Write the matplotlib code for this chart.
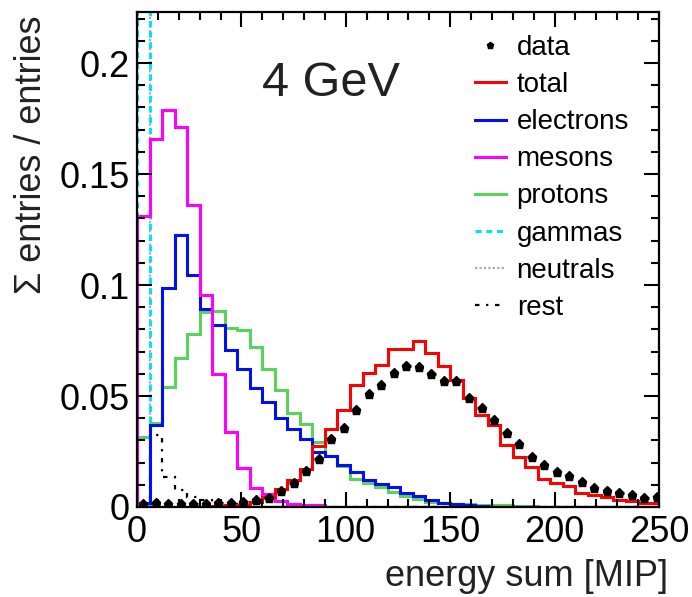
import matplotlib
matplotlib.use("Agg")
import matplotlib.pyplot as plt
from matplotlib.lines import Line2D
import numpy as np

plt.rcParams["font.family"] = ["Liberation Sans", "DejaVu Sans"]

# 6 MIP wide bins, 0 .. 252 (the last one is cut at 250)
bin_edges = np.arange(0, 253, 6)
bin_centres = 0.5 * (bin_edges[:-1] + bin_edges[1:])

data = [0.0015, 0.002, 0.0015, 0.0012, 0.0012, 0.0015, 0.0018, 0.002, 0.0024,
        0.0032, 0.004, 0.0073, 0.011, 0.0164, 0.0215, 0.0305, 0.0354, 0.0438,
        0.0508, 0.055, 0.0604, 0.0637, 0.0631, 0.0601, 0.0566, 0.0568, 0.049,
        0.0445, 0.0393, 0.0335, 0.0284, 0.0227, 0.0189, 0.0159, 0.014, 0.0111,
        0.0087, 0.0073, 0.0062, 0.0054, 0.0042, 0.0044]
total = [0, 0, 0, 0, 0, 0, 0.0005, 0.0008, 0.001,
         0.0024, 0.0047, 0.008, 0.0122, 0.017, 0.0276, 0.0351, 0.0437, 0.055,
         0.0605, 0.064, 0.071, 0.071, 0.075, 0.0693, 0.0635, 0.0572, 0.049,
         0.0414, 0.0368, 0.028, 0.0227, 0.0182, 0.0125, 0.011, 0.0095, 0.0065,
         0.0054, 0.0047, 0.0032, 0.0029, 0.002, 0.002]
electrons = [0.002, 0.037, 0.0985, 0.1225, 0.1045, 0.089, 0.082, 0.0707, 0.062,
             0.0535, 0.0474, 0.040, 0.035, 0.0305, 0.0249, 0.0232, 0.0187, 0.0159,
             0.0122, 0.0104, 0.0092, 0.0065, 0.005, 0.0032, 0.0017, 0.0012, 0.0008,
             0.0005, 0, 0, 0, 0, 0, 0, 0, 0, 0, 0, 0, 0, 0, 0]
mesons = [0.131, 0.166, 0.179, 0.171, 0.136, 0.0955, 0.060, 0.034, 0.0175,
          0.0086, 0.0058, 0.0025, 0.0013, 0.001, 0.001, 0, 0, 0, 0, 0, 0, 0,
          0, 0, 0, 0, 0, 0, 0, 0, 0, 0, 0, 0, 0, 0, 0, 0, 0, 0, 0, 0]
protons = [0.0317, 0.038, 0.054, 0.067, 0.078, 0.088, 0.0883, 0.0805, 0.0797,
           0.0722, 0.062, 0.0527, 0.0425, 0.0372, 0.0294, 0.023, 0.0185, 0.0125,
           0.0107, 0.009, 0.0069, 0.005, 0.0035, 0.0024, 0.0017, 0.0012, 0.0012,
           0.0011, 0.001, 0.0008, 0.0005, 0.0003, 0, 0, 0, 0, 0, 0, 0, 0, 0, 0]
gammas = [0.6] + [0] * 41
neutrals = [0.4] + [0] * 41
rest = [0, 0.0324, 0.0135, 0.0077, 0.0045, 0.003, 0.002, 0.0012, 0.001] + [0] * 33

fig = plt.figure(figsize=(6.92, 5.97), dpi=100)
ax = fig.add_axes([137 / 692, 1 - 507 / 597, 522 / 692, 495 / 597])

lw = 2.2
ax.stairs(neutrals, bin_edges, color="#aaaaaa", lw=1.6, ls=(0, (1, 1)), label="neutrals")
ax.stairs(gammas, bin_edges, color="#00e5ee", lw=lw, ls=(0, (2, 1.5)), label="gammas")
ax.stairs(rest, bin_edges, color="black", lw=1.6, ls=(0, (2, 3, 1, 3)), label="rest")
ax.stairs(protons, bin_edges, color="#5ad35a", lw=lw, label="protons")
ax.stairs(electrons, bin_edges, color="#0010ee", lw=lw, label="electrons")
ax.stairs(mesons, bin_edges, color="#ff00ff", lw=lw, label="mesons")
ax.stairs(total, bin_edges, color="#ff0000", lw=lw, label="total")
ax.errorbar(bin_centres, data, xerr=2.0, fmt="p", color="black", ms=6.5,
            elinewidth=2, capsize=0, zorder=5)

ax.set_xlim(0, 250)
ax.set_ylim(0, 0.223)
ax.set_xticks([0, 50, 100, 150, 200, 250])
ax.set_xticks(np.arange(0, 251, 10), minor=True)
ax.set_yticks([0, 0.05, 0.1, 0.15, 0.2])
ax.set_yticklabels(["0", "0.05", "0.1", "0.15", "0.2"])
ax.set_yticks(np.arange(0, 0.221, 0.01), minor=True)
ax.tick_params(which="both", direction="in", top=True, right=True, width=1.5,
               labelsize=26, color="black")
ax.tick_params(which="major", length=11)
ax.tick_params(which="minor", length=5.5)
ax.tick_params(axis="x", pad=6)
ax.tick_params(axis="y", pad=5)
for s in ax.spines.values():
    s.set_linewidth(1.6)

fig.text(668 / 692, 1 - 576 / 597, "energy sum [MIP]", ha="right", va="center",
         fontsize=26, color="#222222")
fig.text(32 / 692, 1 - 16 / 597, "Σ entries / entries", rotation=90, ha="center",
         va="top", fontsize=26, color="#222222")
ax.text(60, 0.191, "4 GeV", fontsize=35, color="#222222", va="center")

order = ["data", "total", "electrons", "mesons", "protons", "gammas", "neutrals", "rest"]
handles, labels = ax.get_legend_handles_labels()
hmap = dict(zip(labels, handles))
hmap["data"] = Line2D([], [], ls="none", marker="p", color="black", ms=5)
leg = fig.legend([hmap[k] for k in order], order, loc="upper left",
                 bbox_to_anchor=(475 / 692, 1 - 35 / 597), frameon=False,
                 fontsize=20, handlelength=1.1, handletextpad=0.4,
                 labelspacing=0.4, borderpad=0, borderaxespad=0)

fig.savefig("out.png", dpi=100)
